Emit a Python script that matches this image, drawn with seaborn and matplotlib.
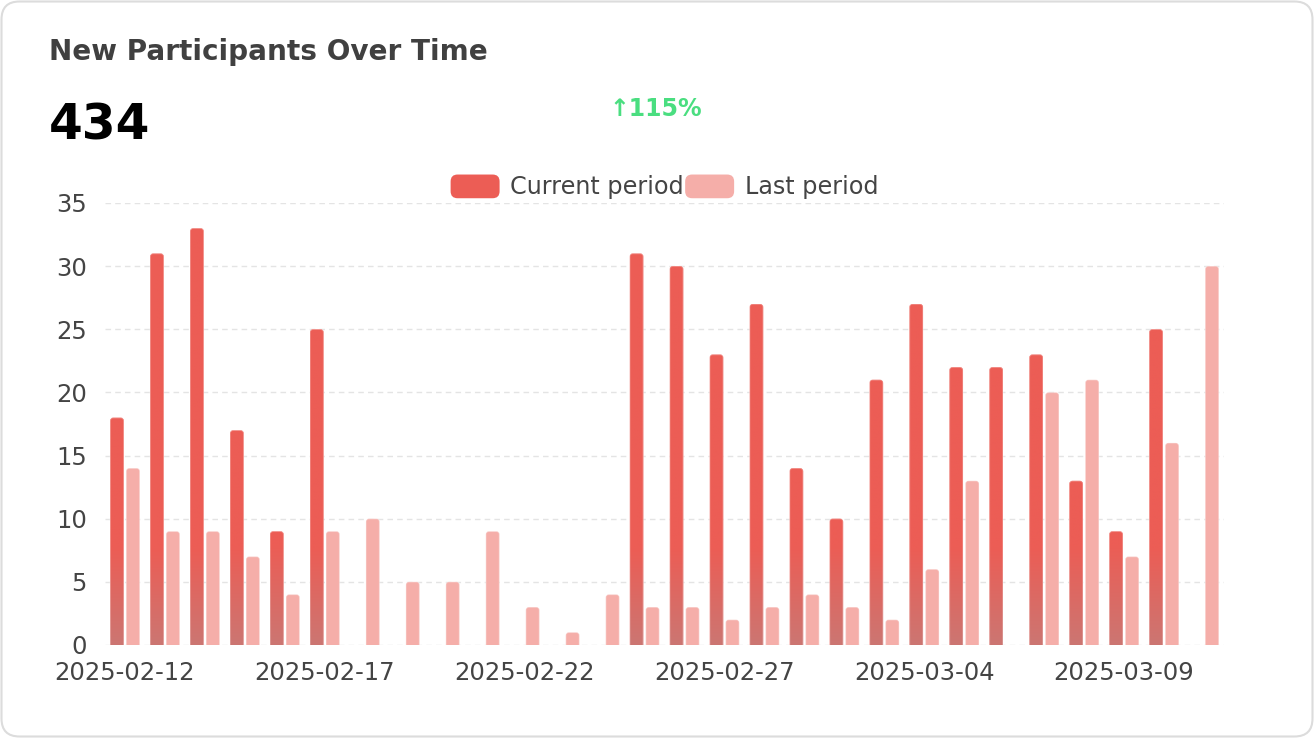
import matplotlib
matplotlib.use('Agg')
import matplotlib.pyplot as plt
import seaborn as sns
import pandas as pd
import numpy as np
from matplotlib.patches import FancyBboxPatch, Patch
from matplotlib.legend_handler import HandlerPatch
from matplotlib.colors import LinearSegmentedColormap, to_rgba
from matplotlib.transforms import IdentityTransform

# --------------------------
# DATA
# --------------------------
dates = [
    '2025-02-12', '2025-02-13', '2025-02-14', '2025-02-15', '2025-02-16',
    '2025-02-17', '2025-02-18', '2025-02-19', '2025-02-20', '2025-02-21',
    '2025-02-22', '2025-02-23', '2025-02-24', '2025-02-25', '2025-02-26',
    '2025-02-27', '2025-02-28', '2025-03-01', '2025-03-02', '2025-03-03',
    '2025-03-04', '2025-03-05', '2025-03-06', '2025-03-07', '2025-03-08',
    '2025-03-09', '2025-03-10', '2025-03-11',
]
current = [18, 31, 33, 17, 9, 25, 0, 0, 0, 0, 0, 0, 0, 31, 30, 23, 27, 14,
           10, 21, 27, 22, 22, 23, 13, 9, 25, 0]
last = [14, 9, 9, 7, 4, 9, 10, 5, 5, 9, 3, 1, 4, 3, 3, 2, 3, 4, 3, 2, 6, 13,
        0, 20, 21, 7, 16, 30]
periods = ['Current period', 'Last period']
total_label = '434'
change_label = '↑115%'

RED = '#EC5D55'
PINK = '#F5AEA9'
RED_BOTTOM = '#CC7672'
GREEN = '#4ADE80'
TXT = '#444444'
FADE_TOP = 7.5  # value where the bottom fade of current bars ends

df = pd.DataFrame({
    'date': dates * 2,
    'period': [periods[0]] * len(dates) + [periods[1]] * len(dates),
    'value': current + last,
})

# --------------------------
# FIGURE
# --------------------------
sns.set_theme(style='white')
plt.rcParams['font.family'] = ['DejaVu Sans']

W, H = 1314, 738
fig = plt.figure(figsize=(W / 100, H / 100), dpi=100)
fig.patch.set_facecolor('white')

# card border
card = FancyBboxPatch((1.5, 1.5), W - 3, H - 3,
                      boxstyle='round,pad=0,rounding_size=18',
                      transform=IdentityTransform(), fc='white',
                      ec='#dcdcdc', lw=1.5, zorder=-5)
fig.add_artist(card)

ax = fig.add_axes([105 / W, 1 - 645 / H, (1224 - 105) / W, (645 - 203) / H])
ax.set_facecolor('none')

sns.barplot(data=df, x='date', y='value', hue='period', hue_order=periods,
            palette=[RED, PINK], width=0.8, gap=0.15, saturation=1,
            legend=False, ax=ax)

# rounded bars (top corners), bottom part clipped at 0
x_per_px = 28 / 1119
y_per_px = 35 / 442
rx = 3 * x_per_px
asp = y_per_px / x_per_px
style = f'round,pad=0,rounding_size={rx}'
cmap = LinearSegmentedColormap.from_list('fade', [RED_BOTTOM, RED])

bars = list(ax.patches)
for p in bars:
    p.remove()
for p in bars:
    h = p.get_height()
    if h <= 0:
        continue
    is_cur = np.allclose(p.get_facecolor(), to_rgba(RED), atol=0.01)
    color = RED if is_cur else PINK
    x0, w = p.get_x(), p.get_width()
    fb = FancyBboxPatch((x0, -1), w, h + 1, boxstyle=style,
                        mutation_aspect=asp, fc=color, ec='none', zorder=3)
    ax.add_patch(fb)
    if is_cur:
        ys = np.linspace(0, h, 400)
        shade = np.clip(ys / FADE_TOP, 0, 1).reshape(-1, 1)
        im = ax.imshow(shade, extent=[x0, x0 + w, 0, h + 0.5], origin='lower',
                       cmap=cmap, vmin=0, vmax=1, aspect='auto', zorder=3.5,
                       interpolation='bilinear')
        im.set_clip_path(fb)
    # faint light outline
    ax.add_patch(FancyBboxPatch((x0, -1), w, h + 1, boxstyle=style,
                                mutation_aspect=asp, fc='none',
                                ec=(1, 1, 1, 0.3), lw=1, zorder=4))

ax.set_xlim(-0.5, len(dates) - 0.5)
ax.set_ylim(0, 35)
ax.set_yticks(range(0, 36, 5))
ax.set_xticks(range(0, len(dates), 5))
ax.set_xticklabels(dates[::5])
ax.set_xlabel('')
ax.set_ylabel('')
ax.yaxis.grid(True, color='#e4e4e4', ls=(0, (4, 3)), lw=1)
ax.xaxis.grid(False)
ax.set_axisbelow(True)
sns.despine(ax=ax, left=True, bottom=True)
ax.tick_params(axis='y', length=0, pad=13, labelsize=17.5, labelcolor=TXT)
ax.tick_params(axis='x', length=0, pad=11.5, labelsize=17.5, labelcolor=TXT)


class RoundHandler(HandlerPatch):
    def create_artists(self, legend, orig_handle, xdescent, ydescent,
                       width, height, fontsize, trans):
        box = FancyBboxPatch((-xdescent, -ydescent), width, height,
                             boxstyle='round,pad=0,rounding_size=5',
                             fc=orig_handle.get_facecolor(), ec='none',
                             transform=trans)
        return [box]


handles = [Patch(fc=RED, label=periods[0]), Patch(fc=PINK, label=periods[1])]
ax.legend(handles=handles, handler_map={Patch: RoundHandler()},
          loc='center', bbox_to_anchor=(0.5, (645 - 187) / 442), ncol=2,
          frameon=False, fontsize=17.2, handlelength=2.05, handleheight=1.15,
          handletextpad=0.45, columnspacing=0.05, labelcolor=TXT)

# header texts
fig.text(49 / W, 1 - 60 / H, 'New Participants Over Time', fontsize=20.1,
         fontweight='bold', color='#404040', va='baseline')
fig.text(49 / W, 1 - 139 / H, total_label, fontsize=35, fontweight='bold',
         color='black', va='baseline')
fig.text(609 / W, 1 - 116 / H, change_label, fontsize=17, fontweight='bold',
         color=GREEN, va='baseline')

fig.savefig('out.png', dpi=100)
plt.close(fig)
